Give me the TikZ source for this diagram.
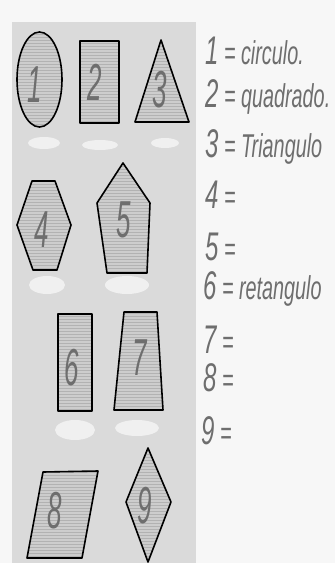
\documentclass[tikz,border=0pt]{standalone}
\usepackage{fontspec}
\usetikzlibrary{patterns}
\newfontfamily\handfont{Liberation Sans}[FakeStretch=0.6]
\newfontfamily\handnarrow{Liberation Sans}[FakeStretch=0.5]
\definecolor{paper}{HTML}{F7F7F7}
\definecolor{panel}{HTML}{DADADA}
\definecolor{shapefill}{HTML}{CDCDCD}
\definecolor{pencil}{HTML}{6E6E6E}
\newcommand\hwdigit{\fontsize{40}{40}\selectfont}
\begin{document}
\begin{tikzpicture}[x=1pt,y=-1pt,
  fig/.style={preaction={fill=shapefill},
              preaction={pattern=horizontal lines, pattern color=gray!60},
              draw=black, line width=1.6pt, line join=round},
  digit/.style={text=pencil, font=\handnarrow\itshape\fontsize{52}{52}\selectfont, inner sep=0pt},
  note/.style={text=pencil, font=\handfont\itshape\fontsize{33}{33}\selectfont, anchor=base west, inner sep=0pt},
  blob/.style={fill=white, opacity=0.6}]
\useasboundingbox (0,0) rectangle (335,563);
\fill[paper] (0,0) rectangle (335,563);
\fill[panel] (12,22) rectangle (196,563);

% white eraser patches
\fill[blob] (44,143) ellipse [x radius=16pt, y radius=6pt];
\fill[blob] (100,145) ellipse [x radius=18pt, y radius=5pt];
\fill[blob] (165,143) ellipse [x radius=14pt, y radius=5pt];
\fill[blob] (47,285) ellipse [x radius=18pt, y radius=9pt];
\fill[blob] (127,285) ellipse [x radius=22pt, y radius=9pt];
\fill[blob] (75,430) ellipse [x radius=20pt, y radius=10pt];
\fill[blob] (137,428) ellipse [x radius=22pt, y radius=8pt];

% shapes
\path[fig] (39.5,79.5) ellipse [x radius=22.5pt, y radius=47.5pt];
\path[fig] (80,41) rectangle (119,123);
\path[fig] (161,40) -- (189,122) -- (135,122) -- cycle;
\path[fig] (32,181) -- (55,181) -- (71,225) -- (57,270) -- (33,270) -- (17,225) -- cycle;
\path[fig] (123,163) -- (150,203) -- (147,273) -- (107,273) -- (97,203) -- cycle;
\path[fig] (58,314) rectangle (92,411);
\path[fig] (124,312) -- (157,312) -- (163,410) -- (114,410) -- cycle;
\path[fig] (43,472) -- (98,471) -- (82,558) -- (27,558) -- cycle;
\path[fig] (148,448) -- (171,502) -- (148,562) -- (126,502) -- cycle;

% handwritten numbers in shapes
\node[digit] (d1) at (35,85) {1};
\node[digit] (d2) at (95,82) {2};
\node[digit] (d3) at (160,90) {3};
\node[digit] (d4) at (42,230) {4};
\node[digit] (d5) at (124,220) {5};
\node[digit] (d6) at (72,368) {6};
\node[digit] (d7) at (140,358) {7};
\node[digit] (d8) at (55,511) {8};
\node[digit] (d9) at (145,506) {9};

% handwritten answers
\node[note] (n1) at (205,64) {{\hwdigit 1}\,=\,circulo.};
\node[note] (n2) at (205,107) {{\hwdigit 2}\,=\,quadrado.};
\node[note] (n3) at (205,157) {{\hwdigit 3}\,=\ Triangulo};
\node[note] (n4) at (205,208) {{\hwdigit 4}\,=};
\node[note] (n5) at (205,260) {{\hwdigit 5}\,=};
\node[note] (n6) at (203,299) {{\hwdigit 6}\,=\,retangulo};
\node[note] (n7) at (203,353) {{\hwdigit 7}\,=};
\node[note] (n8) at (203,391) {{\hwdigit 8}\,=};
\node[note] (n9) at (201,444) {{\hwdigit 9}\,=};
\end{tikzpicture}
\end{document}
